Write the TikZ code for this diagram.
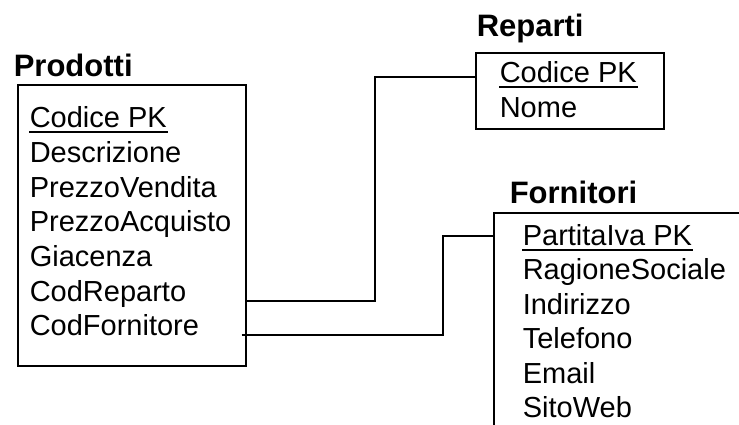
\documentclass[tikz,border=0pt]{standalone}
\usepackage{fontspec}
\setmainfont{Liberation Sans}
\begin{document}
\begin{tikzpicture}[x=1pt, y=-1pt, line width=1.6pt,
    tname/.style={anchor=base west, inner sep=0pt, font=\fontsize{31}{36}\selectfont\bfseries},
    attr/.style={anchor=base west, inner sep=0pt, font=\fontsize{29}{34}\selectfont},
    tbox/.style={draw, anchor=north west, inner sep=0pt}]
\clip (0,0) rectangle (739,425);
% Prodotti
\node[tname] (tprod) at (13,77) {Prodotti};
\node[tbox, minimum width=228pt, minimum height=281pt] (prod) at (17,84) {};
\node[attr] (pcod) at (29,128) {Codice PK};
\node[attr] (pdes) at (29,162.5) {Descrizione};
\node[attr] (ppv) at (29,197) {PrezzoVendita};
\node[attr] (ppa) at (29,231.5) {PrezzoAcquisto};
\node[attr] (pgia) at (29,266) {Giacenza};
\node[attr] (pcr) at (29,301) {CodReparto};
\node[attr] (pcf) at (29,335) {CodFornitore};
\draw ([yshift=-4pt]pcod.base west) -- ([yshift=-4pt]pcod.base east);

% Reparti
\node[tname] (trep) at (476,37) {Reparti};
\node[tbox, minimum width=188pt, minimum height=76pt] (rep) at (475,52) {};
\node[attr] (rcod) at (499,83) {Codice PK};
\node[attr] (rnom) at (499,117.5) {Nome};
\draw ([yshift=-4pt]rcod.base west) -- ([yshift=-4pt]rcod.base east);

% Fornitori
\node[tname] (tforn) at (509,203) {Fornitori};
\node[tbox, minimum width=300pt, minimum height=300pt] (forn) at (493,212) {};
\node[attr] (fpi) at (522,245) {PartitaIva PK};
\node[attr] (frs) at (522,279.5) {RagioneSociale};
\node[attr] (find) at (522,314) {Indirizzo};
\node[attr] (ftel) at (522,348.5) {Telefono};
\node[attr] (fem) at (522,383) {Email};
\node[attr] (fweb) at (522,417.5) {SitoWeb};
\draw ([yshift=-5pt]fpi.base west) -- ([yshift=-5pt]fpi.base east);

% collegamenti
\coordinate (b1) at (375,77);
\coordinate (b2) at (443,236);
\draw (prod.east |- pcr.base) -| (b1) -- (rep.west |- b1);
\draw ([xshift=-5pt]prod.east |- pcf.base) -| (b2) -- (forn.west |- b2);
\end{tikzpicture}
\end{document}
